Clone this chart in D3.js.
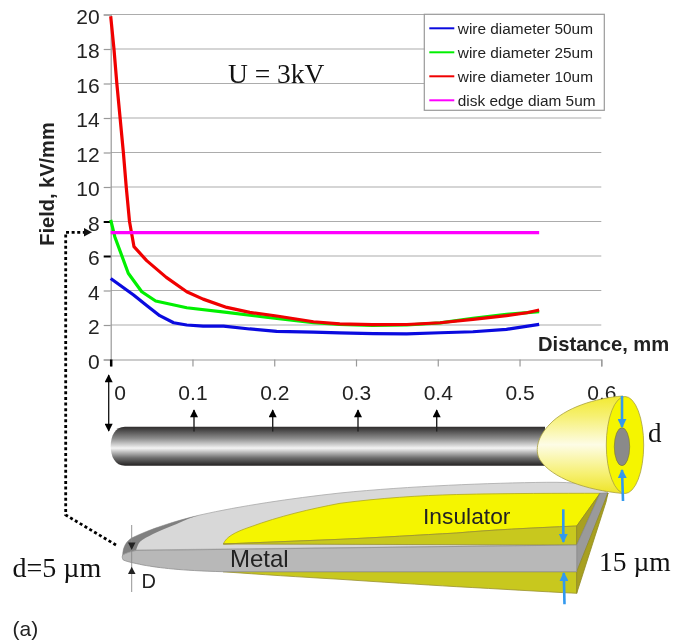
<!DOCTYPE html>
<html>
<head>
<meta charset="utf-8">
<script src="https://cdn.jsdelivr.net/npm/d3@7"></script>
<style>
  html, body { margin: 0; padding: 0; background: #fff; }
  svg { display: block; filter: blur(0.35px); }
  text { font-family: "Liberation Sans", Arial, sans-serif; fill: #222; }
  .serif { font-family: "Liberation Serif", "Times New Roman", serif; fill: #111; }
</style>
</head>
<body>
<div id="chart"></div>
<script>
// values
var yTicks = [0, 2, 4, 6, 8, 10, 12, 14, 16, 18, 20];
var xTicks = [0, 0.1, 0.2, 0.3, 0.4, 0.5, 0.6];

var seriesNames = ["wire diameter 50um", "wire diameter 25um", "wire diameter 10um", "disk edge diam 5um"];
var seriesColors = ["#0a0adf", "#00f000", "#f00000", "#ff00ff"];

var dist50 = [0, 0.028, 0.044, 0.06, 0.077, 0.093, 0.113, 0.138, 0.17, 0.203, 0.248, 0.28, 0.321, 0.362, 0.403, 0.443, 0.484, 0.524];
var field50 = [4.7, 3.74, 3.13, 2.54, 2.13, 2.0, 1.94, 1.94, 1.77, 1.63, 1.59, 1.54, 1.5, 1.48, 1.55, 1.61, 1.75, 2.04];

var dist25 = [0, 0.005, 0.0215, 0.038, 0.055, 0.093, 0.142, 0.19, 0.248, 0.28, 0.32, 0.362, 0.403, 0.443, 0.484, 0.524];
var field25 = [8.09, 7.12, 5.0, 3.93, 3.39, 3.0, 2.73, 2.45, 2.13, 2.04, 1.97, 2.0, 2.12, 2.39, 2.62, 2.77];

var dist10 = [0, 0.004, 0.0075, 0.0115, 0.0155, 0.019, 0.023, 0.0285, 0.044, 0.068, 0.093, 0.113, 0.142, 0.17, 0.203, 0.248, 0.28, 0.32, 0.362, 0.403, 0.443, 0.484, 0.509, 0.524];
var field10 = [19.9, 18, 16, 14, 12, 10, 8, 6.54, 5.73, 4.76, 3.93, 3.5, 3.02, 2.73, 2.52, 2.19, 2.07, 2.02, 2.03, 2.13, 2.33, 2.54, 2.71, 2.87];

var dist5 = [0, 0.524];
var field5 = [7.35, 7.35];

var allDist = [dist50, dist25, dist10, dist5];
var allField = [field50, field25, field10, field5];

var svg = d3.select("#chart").append("svg").attr("width", 683).attr("height", 644);

var defs = svg.append("defs");

function arrowMarker(id, color, w, h) {
  defs.append("marker").attr("id", id)
    .attr("viewBox", "0 0 10 10").attr("refX", 9).attr("refY", 5)
    .attr("markerUnits", "userSpaceOnUse")
    .attr("markerWidth", w).attr("markerHeight", h)
    .attr("orient", "auto-start-reverse")
    .append("path").attr("d", "M0,0L10,5L0,10Z").attr("fill", color);
}
arrowMarker("ablack", "#000", 9, 8);
arrowMarker("ablue", "#3399ee", 9, 9);

function vGrad(id, stops) {
  var g = defs.append("linearGradient").attr("id", id)
    .attr("x1", 0).attr("x2", 0).attr("y1", 0).attr("y2", 1);
  stops.forEach(function(s) {
    g.append("stop").attr("offset", s[0]).attr("stop-color", s[1]);
  });
}
vGrad("rodFill", [[0, "#2e2c2c"], [0.3, "#8c8c8c"], [0.55, "#f4f4f4"], [0.8, "#6e6e6e"], [1, "#242222"]]);
vGrad("coneFill", [[0, "#f2ea30"], [0.2, "#f6f070"], [0.5, "#fdfce6"], [0.8, "#f6f070"], [1, "#eee428"]]);

// scales
var x = d3.scaleLinear().domain([0, 0.6]).range([110.7, 601.3]);
var y = d3.scaleLinear().domain([0, 20]).range([359.5, 14.5]);

// grid
svg.append("g").selectAll("line").data(yTicks.slice(1)).join("line")
  .attr("x1", x(0)).attr("x2", x(0.6))
  .attr("y1", function(d) { return y(d); }).attr("y2", function(d) { return y(d); })
  .attr("stroke", "#acacac").attr("stroke-width", 1.2);

// axes
var yAxis = svg.append("g").attr("transform", "translate(" + x(0) + ",0)")
  .call(d3.axisLeft(y).tickValues(yTicks).tickSize(7).tickPadding(4).tickFormat(d3.format("d")));
var xAxis = svg.append("g").attr("transform", "translate(0," + y(0) + ")")
  .call(d3.axisBottom(x).tickValues(xTicks).tickSize(7).tickPadding(19).tickFormat(function(d) { return d; }));

[yAxis, xAxis].forEach(function(a) {
  a.select(".domain").attr("stroke", "#999").attr("stroke-width", 1.2);
  a.selectAll(".tick line").attr("stroke", "#999").attr("stroke-width", 1.2);
  a.selectAll("text").attr("font-size", 21).attr("font-family", "Liberation Sans").attr("fill", "#222");
});
yAxis.selectAll("text").attr("dy", "0.42em");
yAxis.selectAll(".tick line").filter(function(d) { return d == 6 || d == 8; })
  .attr("stroke", "#000").attr("stroke-width", 2);
xAxis.selectAll(".tick line").filter(function(d) { return d == 0; })
  .attr("stroke", "#000").attr("stroke-width", 2.5);
xAxis.selectAll("text").filter(function(d) { return d == 0; }).attr("dx", 9);

// series
var line = d3.line()
  .x(function(d) { return x(d[0]); })
  .y(function(d) { return y(d[1]); });

seriesNames.forEach(function(name, i) {
  svg.append("path")
    .datum(d3.zip(allDist[i], allField[i]))
    .attr("d", line)
    .attr("fill", "none")
    .attr("stroke", seriesColors[i])
    .attr("stroke-width", 3.2)
    .attr("stroke-linejoin", "round");
});

// legend
var legend = svg.append("g").attr("transform", "translate(424.3,14.3)");
legend.append("rect").attr("width", 180).attr("height", 96)
  .attr("fill", "#fff").attr("stroke", "#999").attr("stroke-width", 1.2);
var items = legend.selectAll("g").data(seriesNames).join("g")
  .attr("transform", function(d, i) { return "translate(0," + (14 + i * 24) + ")"; });
items.append("line").attr("x1", 5).attr("x2", 30)
  .attr("stroke", function(d, i) { return seriesColors[i]; }).attr("stroke-width", 2);
items.append("text").attr("x", 33.5).attr("y", 5.5)
  .attr("font-size", 15.4).text(function(d) { return d; });

// titles
svg.append("text").attr("transform", "translate(54,184) rotate(-90)")
  .attr("text-anchor", "middle").attr("font-size", 20).attr("font-weight", "bold").attr("fill", "#111")
  .text("Field, kV/mm");
svg.append("text").attr("x", 538).attr("y", 350.5)
  .attr("font-size", 20.2).attr("font-weight", "bold").attr("fill", "#111")
  .text("Distance, mm");
svg.append("text").attr("class", "serif").attr("x", 228).attr("y", 82.5)
  .attr("font-size", 27.5).text("U = 3kV");

// illustration below the chart, in page coordinates
function shape(d, fill, stroke) {
  return svg.append("path").attr("d", d)
    .attr("fill", fill).attr("stroke", stroke || "none").attr("stroke-width", 0.8);
}
function arrow(x1, y1, x2, y2, color, w, mark, both) {
  var l = svg.append("line").attr("x1", x1).attr("y1", y1).attr("x2", x2).attr("y2", y2)
    .attr("stroke", color).attr("stroke-width", w).attr("marker-end", "url(#" + mark + ")");
  if (both) l.attr("marker-start", "url(#" + mark + ")");
}

// dotted leader from the magenta line to the tip
svg.append("path").attr("d", "M116,545L65.7,515L65.7,232.3L84,232.3")
  .attr("fill", "none").attr("stroke", "#000").attr("stroke-width", 2.8).attr("stroke-dasharray", "3 2.6");
svg.append("path").attr("d", "M84,228L92,232.3L84,236.5Z").attr("fill", "#111");

// double arrow and the small field arrows on the rod
arrow(108.7, 375, 108.7, 431, "#111", 1.3, "ablack", true);

// rod
shape("M545,426.7L125,426.7C115,426.7 110.7,436 110.7,446.2C110.7,456.4 115,465.7 125,465.7L545,465.7Z", "url(#rodFill)");
[194, 272.7, 358, 436.7].forEach(function(px) {
  arrow(px, 431.5, px, 410, "#222", 1.4, "ablack");
});

// flat tapered sample
shape("M122.7,555C123,546 127,541 131.7,538C150,529 175,521 200,515C240,506 290,498.5 340,493C410,486 490,483 546.7,482.3C575,482 595,484 608,493L576.7,545L136.7,550Z", "#d8d8d8", "#a8a8a8");
shape("M122.7,555C123,546 127,541 131.7,538C150,529 175,521 200,515C192,517 185,520 176.7,524C168,527.5 160,530.5 153,534C148,536.5 143,539 140,541.7C138,544 137,547 136,550.5C130,551.5 126,553 122.7,555Z", "#808080");
shape("M223.3,544C226,537 235,532 250,527C280,516 310,509 340,503.3C380,498 420,495.5 456.7,494.5C510,493.3 560,493.3 600,493.3L576.7,526C530,528 490,530 456.7,533C420,535 380,537.5 340,539.3Z", "#f5f500", "#b0a820");
shape("M223.3,544L340,539.3C380,537.5 420,535 456.7,533C490,530 530,528 576.7,526L576.7,545Z", "#c8c81e", "#999030");
shape("M576.7,571.7L223,571.7C260,574.5 300,577 340,579.3C380,582 420,584.5 456.7,586.7C500,589 540,591.5 576.7,593.3Z", "#c8c81e", "#999030");
shape("M576.7,526L600,493.3L576.7,545Z", "#a8a020", "#908a20");
shape("M576.7,545L600,493.3L608,493L576.7,571.7Z", "#9a9a9a", "#888");
shape("M576.7,571.7L608,493L606,502L576.7,593.3Z", "#a8a020", "#908a20");
shape("M136,550.5L576.7,545L576.7,571.7L223,571.7C180,570.5 160,568 143,565C134,563 128,562 123.3,560C122,558 122,556.5 122.7,555C126,553 130,551.5 136,550.5Z", "#b8b8b8", "#8f8f8f");

// wire end with insulation
shape("M623,396C595,398 565,408 550,424C538,436 534,450 540,460C552,478 585,490 623,493.5Z", "url(#coneFill)", "#a8a040");
svg.append("ellipse").attr("cx", 625).attr("cy", 445).attr("rx", 18.7).attr("ry", 48.5)
  .attr("fill", "#f5f500").attr("stroke", "#a8a040").attr("stroke-width", 0.8);
svg.append("ellipse").attr("cx", 622).attr("cy", 446.7).attr("rx", 7.7).attr("ry", 19)
  .attr("fill", "#8a8a8a").attr("stroke", "#77742a").attr("stroke-width", 0.6);

// blue thickness arrows
arrow(622, 396, 622, 427, "#3399ee", 2.6, "ablue");
arrow(623, 501, 622, 470, "#3399ee", 2.6, "ablue");
arrow(563.3, 509.3, 563.3, 542, "#3399ee", 2.6, "ablue");
arrow(564.5, 604.3, 563.8, 573, "#3399ee", 2.6, "ablue");

// D marker
svg.append("line").attr("x1", 131.7).attr("x2", 131.7).attr("y1", 525).attr("y2", 592)
  .attr("stroke", "#888").attr("stroke-width", 0.9);
svg.append("path").attr("d", "M128,542.5L135.5,542.5L131.7,550Z").attr("fill", "#222");
svg.append("path").attr("d", "M128,574L135.5,574L131.7,566.7Z").attr("fill", "#222");

// labels on the illustration
svg.append("text").attr("x", 141.5).attr("y", 588).attr("font-size", 20).text("D");
svg.append("text").attr("x", 230).attr("y", 567).attr("font-size", 24).attr("fill", "#333").text("Metal");
svg.append("text").attr("x", 423).attr("y", 524).attr("font-size", 22.8).attr("fill", "#333").text("Insulator");
svg.append("text").attr("class", "serif").attr("x", 12.5).attr("y", 577).attr("font-size", 28).text("d=5 \u00b5m");
svg.append("text").attr("class", "serif").attr("x", 599).attr("y", 570.5).attr("font-size", 27.5).text("15 \u00b5m");
svg.append("text").attr("class", "serif").attr("x", 648).attr("y", 441.5).attr("font-size", 27).text("d");
svg.append("text").attr("x", 12.5).attr("y", 636).attr("font-size", 21).text("(a)");
</script>
</body>
</html>
